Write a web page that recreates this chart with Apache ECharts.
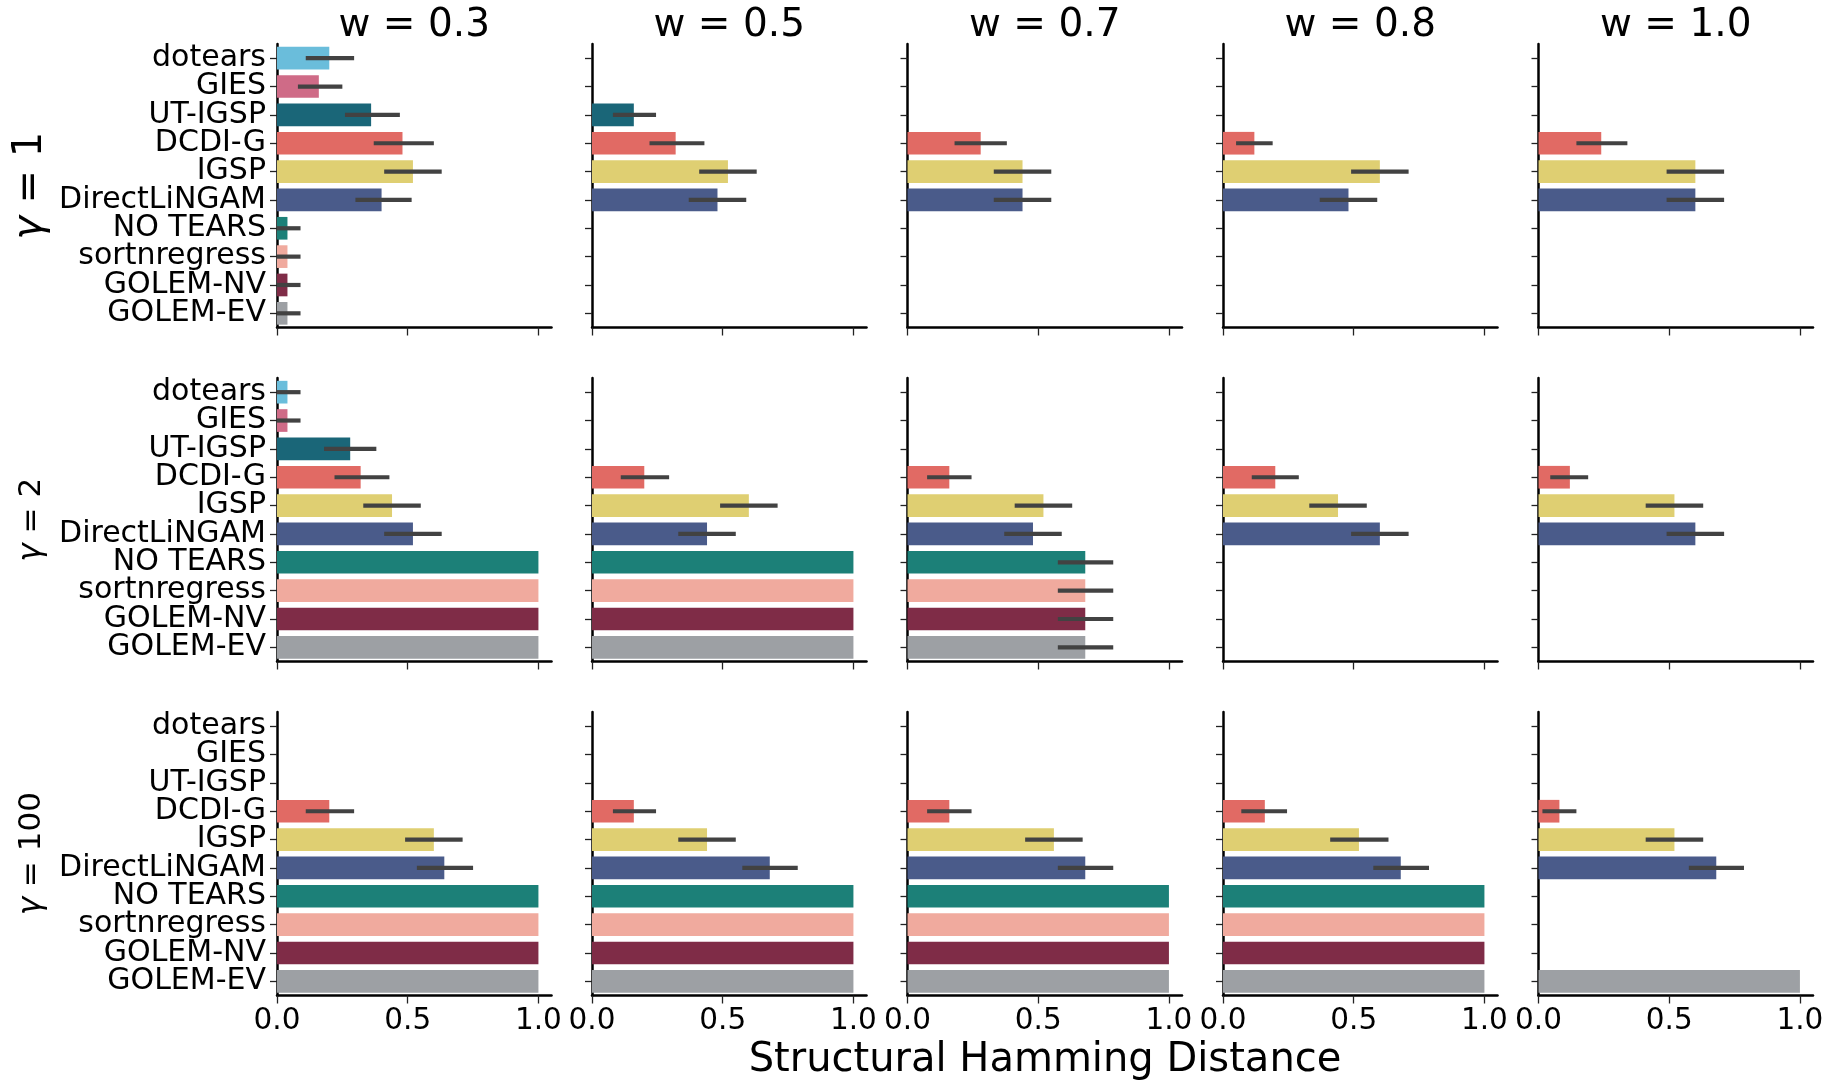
<!DOCTYPE html>
<html><head><meta charset="utf-8">
<script src="https://cdn.jsdelivr.net/npm/echarts@6/dist/echarts.min.js"></script>
<style>html,body{margin:0;padding:0;background:#fff}#c{width:1828px;height:1089px}</style>
</head><body><div id="c"></div>
<script>
// ---------- data ----------
const methods = ['dotears','GIES','UT-IGSP','DCDI-G','IGSP','DirectLiNGAM','NO TEARS','sortnregress','GOLEM-NV','GOLEM-EV'];
const methodColors = ['#6abddb','#cf6b87','#1a6678','#e16a64','#dfcf72','#4a5b8a','#1c8078','#f0aa9e','#7f2c47','#9da0a4'];
const wTitles = ['w = 0.3','w = 0.5','w = 0.7','w = 0.8','w = 1.0'];
const gammaLabels = ['1','2','100'];
const xTickValues = [0, 0.5, 1.0];
const xAxisTitle = 'Structural Hamming Distance';
const N = null;

// gamma = 1 : mean, ci low, ci high per method (null = no bar)
const g1_w03_mean = [0.20,0.16,0.36,0.48,0.52,0.40,0.04,0.04,0.04,0.04];
const g1_w03_lo   = [0.11,0.08,0.26,0.37,0.41,0.30,0,0,0,0];
const g1_w03_hi   = [0.295,0.25,0.47,0.60,0.63,0.515,0.09,0.09,0.09,0.09];
const g1_w05_mean = [N,N,0.16,0.32,0.52,0.48,N,N,N,N];
const g1_w05_lo   = [N,N,0.08,0.22,0.41,0.37,N,N,N,N];
const g1_w05_hi   = [N,N,0.245,0.43,0.63,0.59,N,N,N,N];
const g1_w07_mean = [N,N,N,0.28,0.44,0.44,N,N,N,N];
const g1_w07_lo   = [N,N,N,0.18,0.33,0.33,N,N,N,N];
const g1_w07_hi   = [N,N,N,0.38,0.55,0.55,N,N,N,N];
const g1_w08_mean = [N,N,N,0.12,0.60,0.48,N,N,N,N];
const g1_w08_lo   = [N,N,N,0.05,0.49,0.37,N,N,N,N];
const g1_w08_hi   = [N,N,N,0.19,0.71,0.59,N,N,N,N];
const g1_w10_mean = [N,N,N,0.24,0.60,0.60,N,N,N,N];
const g1_w10_lo   = [N,N,N,0.145,0.49,0.49,N,N,N,N];
const g1_w10_hi   = [N,N,N,0.34,0.71,0.71,N,N,N,N];

// gamma = 2
const g2_w03_mean = [0.04,0.04,0.28,0.32,0.44,0.52,1,1,1,1];
const g2_w03_lo   = [0,0,0.18,0.22,0.33,0.41,N,N,N,N];
const g2_w03_hi   = [0.09,0.09,0.38,0.43,0.55,0.63,N,N,N,N];
const g2_w05_mean = [N,N,N,0.20,0.60,0.44,1,1,1,1];
const g2_w05_lo   = [N,N,N,0.11,0.49,0.33,N,N,N,N];
const g2_w05_hi   = [N,N,N,0.295,0.71,0.55,N,N,N,N];
const g2_w07_mean = [N,N,N,0.16,0.52,0.48,0.68,0.68,0.68,0.68];
const g2_w07_lo   = [N,N,N,0.075,0.41,0.37,0.575,0.575,0.575,0.575];
const g2_w07_hi   = [N,N,N,0.245,0.63,0.59,0.787,0.787,0.787,0.787];
const g2_w08_mean = [N,N,N,0.20,0.44,0.60,N,N,N,N];
const g2_w08_lo   = [N,N,N,0.11,0.33,0.49,N,N,N,N];
const g2_w08_hi   = [N,N,N,0.29,0.55,0.71,N,N,N,N];
const g2_w10_mean = [N,N,N,0.12,0.52,0.60,N,N,N,N];
const g2_w10_lo   = [N,N,N,0.045,0.41,0.49,N,N,N,N];
const g2_w10_hi   = [N,N,N,0.19,0.63,0.71,N,N,N,N];

// gamma = 100
const g100_w03_mean = [N,N,N,0.20,0.60,0.64,1,1,1,1];
const g100_w03_lo   = [N,N,N,0.11,0.49,0.535,N,N,N,N];
const g100_w03_hi   = [N,N,N,0.295,0.71,0.75,N,N,N,N];
const g100_w05_mean = [N,N,N,0.16,0.44,0.68,1,1,1,1];
const g100_w05_lo   = [N,N,N,0.08,0.33,0.575,N,N,N,N];
const g100_w05_hi   = [N,N,N,0.245,0.55,0.787,N,N,N,N];
const g100_w07_mean = [N,N,N,0.16,0.56,0.68,1,1,1,1];
const g100_w07_lo   = [N,N,N,0.075,0.45,0.575,N,N,N,N];
const g100_w07_hi   = [N,N,N,0.245,0.67,0.787,N,N,N,N];
const g100_w08_mean = [N,N,N,0.16,0.52,0.68,1,1,1,1];
const g100_w08_lo   = [N,N,N,0.07,0.41,0.575,N,N,N,N];
const g100_w08_hi   = [N,N,N,0.245,0.633,0.788,N,N,N,N];
const g100_w10_mean = [N,N,N,0.08,0.52,0.68,N,N,N,1];
const g100_w10_lo   = [N,N,N,0.015,0.41,0.575,N,N,N,N];
const g100_w10_hi   = [N,N,N,0.145,0.63,0.786,N,N,N,N];

const panelData = [
  [[g1_w03_mean,g1_w03_lo,g1_w03_hi],[g1_w05_mean,g1_w05_lo,g1_w05_hi],[g1_w07_mean,g1_w07_lo,g1_w07_hi],[g1_w08_mean,g1_w08_lo,g1_w08_hi],[g1_w10_mean,g1_w10_lo,g1_w10_hi]],
  [[g2_w03_mean,g2_w03_lo,g2_w03_hi],[g2_w05_mean,g2_w05_lo,g2_w05_hi],[g2_w07_mean,g2_w07_lo,g2_w07_hi],[g2_w08_mean,g2_w08_lo,g2_w08_hi],[g2_w10_mean,g2_w10_lo,g2_w10_hi]],
  [[g100_w03_mean,g100_w03_lo,g100_w03_hi],[g100_w05_mean,g100_w05_lo,g100_w05_hi],[g100_w07_mean,g100_w07_lo,g100_w07_hi],[g100_w08_mean,g100_w08_lo,g100_w08_hi],[g100_w10_mean,g100_w10_lo,g100_w10_hi]]
];

// ---------- layout ----------
const FONT = 'DejaVu Sans';
const colLeft = [277, 592, 907.5, 1223, 1538.5];
const rowTop = [44, 378, 712];
const PW = 274.5, PH = 283.5;
const gammaFont = [40, 31, 31];
const gammaX = [31, 32, 32];

const grids = [], xAxes = [], yAxes = [], series = [], graphics = [];
let k = 0;
for (let r = 0; r < 3; r++) {
  for (let c = 0; c < 5; c++) {
    grids.push({left: colLeft[c], top: rowTop[r], width: PW, height: PH, containLabel: false});
    xAxes.push({
      type: 'value', gridIndex: k, min: 0, max: 1.05,
      axisLine: {show: true, onZero: false, lineStyle: {color: '#000', width: 2.5}},
      axisTick: {show: true, length: 8, lineStyle: {color: '#222', width: 1.3}, customValues: xTickValues},
      axisLabel: {show: r === 2, customValues: xTickValues, formatter: v => v.toFixed(1),
        fontFamily: FONT, fontSize: 29.5, color: '#000', margin: 11},
      splitLine: {show: false}
    });
    yAxes.push({
      type: 'category', gridIndex: k, data: methods, inverse: true,
      axisLine: {show: true, lineStyle: {color: '#000', width: 2.5}},
      axisTick: {show: true, alignWithLabel: true, interval: 0, length: 7, lineStyle: {color: '#222', width: 1.3}},
      axisLabel: {show: c === 0, interval: 0, hideOverlap: false, fontFamily: FONT, fontSize: 30, color: '#000',
        margin: 11, padding: [9, 0, 0, 0]},
      splitLine: {show: false}
    });
    const [mean, lo, hi] = panelData[r][c];
    series.push({
      type: 'bar', xAxisIndex: k, yAxisIndex: k, barCategoryGap: '20%', silent: true,
      data: mean.map((v, i) => v === null ? '-' : {value: v, itemStyle: {color: methodColors[i]}}),
      animation: false
    });
    const eb = [];
    lo.forEach((l, i) => { if (l !== null && hi[i] !== null) eb.push([l, hi[i], i]); });
    series.push({
      type: 'custom', xAxisIndex: k, yAxisIndex: k, z: 5, silent: true, animation: false,
      encode: {x: [0, 1], y: 2},
      data: eb,
      renderItem: function (params, api) {
        const y = api.value(2);
        const a = api.coord([api.value(0), y]);
        const b = api.coord([api.value(1), y]);
        return {type: 'line', shape: {x1: a[0], y1: a[1], x2: b[0], y2: b[1]},
          style: {stroke: '#424242', lineWidth: 4.2, lineCap: 'butt'}};
      }
    });
    k++;
  }
}
for (let c = 0; c < 5; c++) {
  graphics.push({type: 'text', x: colLeft[c] + PW / 2, y: 26,
    style: {text: wTitles[c], fontFamily: FONT, fontSize: 39, fill: '#000', align: 'center', verticalAlign: 'middle'}});
}
for (let r = 0; r < 3; r++) {
  graphics.push({type: 'text', x: gammaX[r], y: rowTop[r] + PH / 2, rotation: Math.PI / 2,
    style: {text: '{g|γ} = ' + gammaLabels[r], fontFamily: FONT, fontSize: gammaFont[r], fill: '#000',
      align: 'center', verticalAlign: 'middle',
      rich: {g: {fontFamily: FONT, fontSize: gammaFont[r], fontStyle: 'italic', fill: '#000'}}}});
}
graphics.push({type: 'text', x: (colLeft[0] + colLeft[4] + PW) / 2, y: 1061,
  style: {text: xAxisTitle, fontFamily: FONT, fontSize: 40, fill: '#000', align: 'center', verticalAlign: 'middle'}});

const chart = echarts.init(document.getElementById('c'), null, {renderer: 'canvas'});
chart.setOption({
  animation: false, backgroundColor: '#fff',
  grid: grids, xAxis: xAxes, yAxis: yAxes, series: series, graphic: graphics
});
</script></body></html>
